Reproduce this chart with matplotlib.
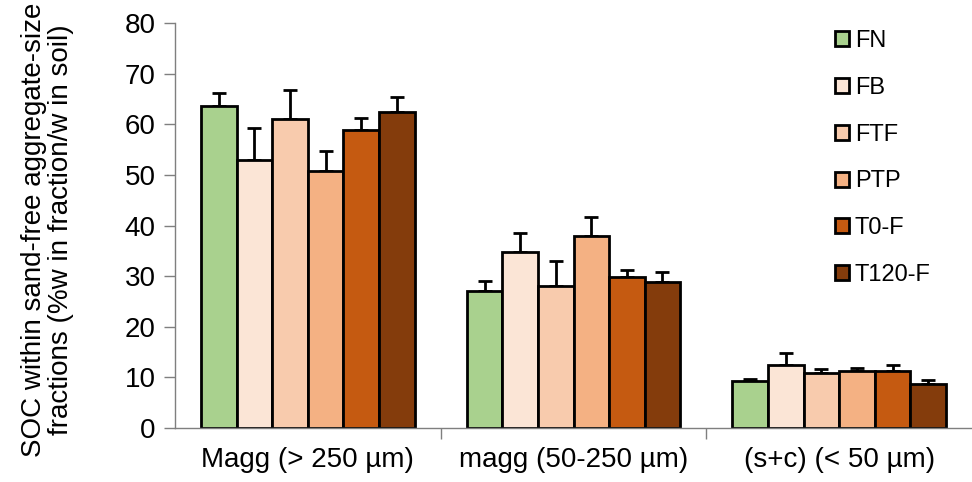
import matplotlib.pyplot as plt
import numpy as np

plt.rcParams['font.family'] = ['Liberation Sans', 'DejaVu Sans']

categories = ['Magg (> 250 µm)', 'magg (50-250 µm)', '(s+c) (< 50 µm)']
treatments = ['FN', 'FB', 'FTF', 'PTP', 'T0-F', 'T120-F']
colors = ['#a9d18e', '#fbe5d6', '#f8cbad', '#f4b183', '#c55a11', '#843c0c']

# mean values per treatment, one entry per fraction
means = {
    'FN': [63.6, 27.1, 9.2],
    'FB': [52.9, 34.7, 12.4],
    'FTF': [61.0, 28.0, 10.8],
    'PTP': [50.7, 38.0, 11.2],
    'T0-F': [58.9, 29.8, 11.3],
    'T120-F': [62.5, 28.8, 8.6],
}
errors = {
    'FN': [2.5, 1.9, 0.5],
    'FB': [6.3, 3.9, 2.4],
    'FTF': [5.7, 5.0, 0.8],
    'PTP': [4.0, 3.7, 0.6],
    'T0-F': [2.3, 1.5, 1.2],
    'T120-F': [2.8, 2.1, 0.8],
}


def main():
    fig = plt.figure(figsize=(9.72, 4.82), dpi=100)
    ax = fig.add_axes([175 / 972, 54 / 482, 797 / 972, 405 / 482])

    x = np.arange(len(categories))
    width = 0.134
    n = len(treatments)
    for i, t in enumerate(treatments):
        pos = x + (i - (n - 1) / 2) * width
        ax.bar(pos, means[t], width, color=colors[i], edgecolor='black',
               linewidth=2, label=t, zorder=2)
        ax.errorbar(pos, means[t], yerr=[np.zeros(len(x)), errors[t]],
                    fmt='none', ecolor='black', elinewidth=2, capsize=5,
                    capthick=2, zorder=1)

    ax.set_xlim(-0.5, 2.5)
    ax.set_ylim(0, 80)
    ax.set_yticks(range(0, 81, 10))
    ax.set_xticks(x)
    ax.set_xticklabels(categories)
    ax.set_xticks([0.5, 1.5], minor=True)
    ax.tick_params(axis='x', which='major', length=0, labelsize=20, pad=14)
    ax.tick_params(axis='x', which='minor', length=8, width=1, color='#7f7f7f',
                   direction='out')
    ax.tick_params(axis='y', length=8, width=1, color='#7f7f7f', labelsize=20,
                   pad=6)

    for side in ['top', 'right']:
        ax.spines[side].set_visible(False)
    for side in ['left', 'bottom']:
        ax.spines[side].set_color('#7f7f7f')
        ax.spines[side].set_linewidth(1)

    ax.set_ylabel('SOC within sand-free aggregate-size\n'
                  'fractions (%w in fraction/w in soil)', fontsize=20,
                  linespacing=1.05)
    ax.yaxis.set_label_coords(-0.127, 0.49)

    ax.legend(loc='upper right', bbox_to_anchor=(0.975, 1.035), frameon=False,
              fontsize=17, handlelength=0.6, handleheight=0.6,
              handletextpad=0.25, labelspacing=1.05)

    fig.savefig('out.png', dpi=100)


if __name__ == "__main__":
    main()
